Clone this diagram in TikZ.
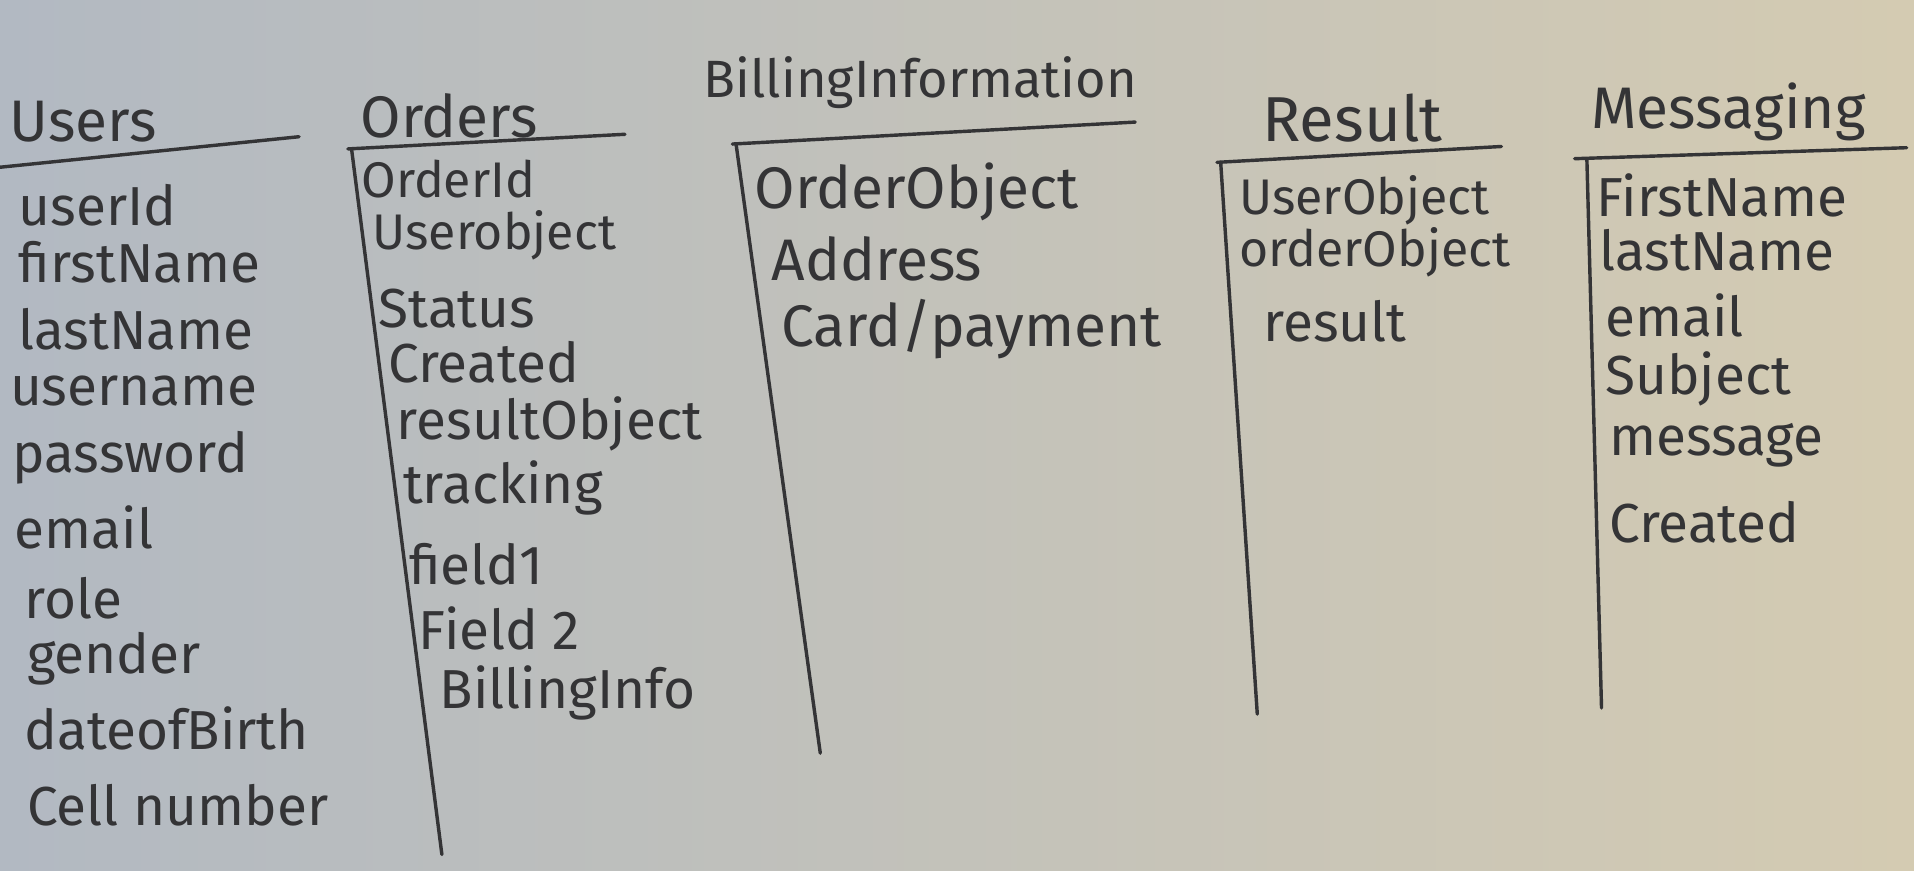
\documentclass[tikz,border=0pt]{standalone}
\usepackage{fontspec}
\setmainfont{Fira Sans}
\newlength{\du}
\setlength{\du}{1pt}
\definecolor{paperleft}{RGB}{178,185,194}
\definecolor{papermid}{RGB}{195,199,183}
\definecolor{paperright}{RGB}{212,203,178}
\definecolor{inkcolor}{RGB}{52,52,54}
\tikzset{
  tabletitle/.style={text=inkcolor, inner sep=0pt, font=\fontsize{48}{52}\selectfont},
  tablefield/.style={anchor=west, text=inkcolor, inner sep=0pt, font=\fontsize{45}{50}\selectfont},
  tightfield/.style={tablefield, font=\fontsize{41}{45}\selectfont},
  inkline/.style={draw=inkcolor, line width=2.8\du, line cap=round},
}

\begin{document}
\begin{tikzpicture}
\pgftransformxscale{1.000000}
\pgftransformyscale{-1.000000}
% paper
\shade[left color=paperleft, middle color=papermid, right color=paperright] (0\du,0\du) rectangle (1568\du,713\du);
\useasboundingbox (0\du,0\du) rectangle (1568\du,713\du);
% Users
\node[tabletitle] (users) at (68\du,100\du){Users};
\draw[inkline] (0\du,137\du)--(245\du,112\du);
\node[tablefield] (users-id) at (15\du,168\du){userId};
\node[tablefield] (users-first) at (15\du,215\du){firstName};
\node[tablefield] (users-last) at (15\du,270\du){lastName};
\node[tablefield] (users-uname) at (8\du,320\du){username};
\node[tablefield] (users-pass) at (10\du,375\du){password};
\node[tablefield] (users-email) at (12\du,432\du){email};
\node[tablefield] (users-role) at (20\du,490\du){role};
\node[tablefield] (users-gender) at (22\du,540\du){gender};
\node[tablefield] (users-birth) at (20\du,597\du){dateofBirth};
\node[tablefield] (users-cell) at (22\du,660\du){Cell number};
% Orders
\node[tabletitle] (orders) at (368\du,95\du){Orders};
\draw[inkline] (285\du,122\du)--(512\du,110\du);
\draw[inkline] (288\du,122\du)--(362\du,700\du);
\node[tightfield] (orders-id) at (296\du,147\du){OrderId};
\node[tightfield] (orders-user) at (305\du,193\du){Userobject};
\node[tablefield] (orders-status) at (310\du,253\du){Status};
\node[tablefield] (orders-created) at (318\du,297\du){Created};
\node[tablefield] (orders-result) at (325\du,347\du){resultObject};
\node[tablefield] (orders-track) at (330\du,400\du){tracking};
\node[tablefield] (orders-f1) at (335\du,462\du){field1};
\node[tablefield] (orders-f2) at (343\du,515\du){Field 2};
\node[tablefield] (orders-billing) at (360\du,568\du){BillingInfo};
% BillingInformation
\node[tabletitle, font=\fontsize{43}{47}\selectfont] (billing) at (754\du,68\du){BillingInformation};
\draw[inkline] (600\du,118\du)--(930\du,100\du);
\draw[inkline] (603\du,118\du)--(672\du,617\du);
\node[tablefield, font=\fontsize{48}{52}\selectfont] (billing-order) at (618\du,157\du){OrderObject};
\node[tablefield, font=\fontsize{48}{52}\selectfont] (billing-addr) at (632\du,212\du){Address};
\node[tablefield, font=\fontsize{48}{52}\selectfont] (billing-card) at (640\du,270\du){Card/payment};
% Result
\node[tabletitle, font=\fontsize{52}{56}\selectfont] (result) at (1108\du,97\du){Result};
\draw[inkline] (997\du,133\du)--(1230\du,120\du);
\draw[inkline] (1000\du,133\du)--(1030\du,585\du);
\node[tightfield] (result-user) at (1015\du,164\du){UserObject};
\node[tightfield] (result-order) at (1015\du,207\du){orderObject};
\node[tablefield] (result-res) at (1035\du,263\du){result};
% Messaging
\node[tabletitle] (messaging) at (1416\du,92\du){Messaging};
\draw[inkline] (1290\du,130\du)--(1562\du,121\du);
\draw[inkline] (1300\du,130\du)--(1312\du,580\du);
\node[tablefield] (msg-first) at (1308\du,160\du){FirstName};
\node[tablefield] (msg-last) at (1310\du,205\du){lastName};
\node[tablefield] (msg-email) at (1315\du,258\du){email};
\node[tablefield] (msg-subject) at (1315\du,310\du){Subject};
\node[tablefield] (msg-message) at (1318\du,365\du){message};
\node[tablefield] (msg-created) at (1318\du,428\du){Created};
\end{tikzpicture}
\end{document}
